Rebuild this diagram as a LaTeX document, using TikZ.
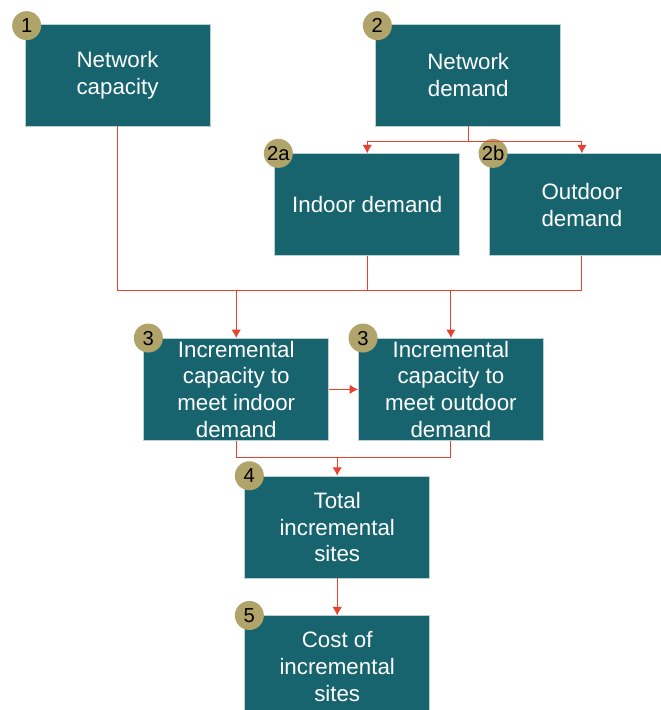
\documentclass[tikz,border=0pt]{standalone}
\usepackage{fontspec}
\setmainfont{Liberation Sans}
\usetikzlibrary{positioning}
\usetikzlibrary{arrows.meta}
\definecolor{verdeazul}{RGB}{23,100,110}
\definecolor{arena}{RGB}{176,164,106}
\definecolor{rojo}{RGB}{232,65,47}
\begin{document}
\begin{tikzpicture}
\tikzset{
    bloque/.style={rectangle, draw=white!70!verdeazul, line width=0.4pt, fill=verdeazul,
                   text=white, minimum width=3.7cm, minimum height=2.04cm, inner sep=0pt,
                   align=center, font=\fontsize{12.7}{15.3}\selectfont},
    flecha/.style={-{Latex[length=1.7mm,width=1.9mm]}, draw=rojo, line width=0.6pt},
    linea/.style={draw=rojo, line width=0.6pt},
    insignia/.style={circle, fill=arena, minimum size=0.58cm, inner sep=0pt,
                     font=\fontsize{11.5}{12}\selectfont}
}
\useasboundingbox (0,0) rectangle (13.22,-14.2);

\node[bloque] (cap) at (2.35,-1.5) {Network\\capacity};
\node[bloque,right=3.3cm of cap] (dem) {Network\\demand};
\node[bloque,below=0.54cm of dem,xshift=-2.02cm] (ind) {Indoor demand};
\node[bloque,right=0.58cm of ind] (outd) {Outdoor\\demand};
\node[bloque,below=1.64cm of ind,xshift=-2.62cm] (inc1) {Incremental\\capacity to\\meet indoor\\demand};
\node[bloque,right=0.58cm of inc1] (inc2) {Incremental\\capacity to\\meet outdoor\\demand};
\node[bloque,below=0.7cm of inc1,xshift=2.02cm] (tot) {Total\\incremental\\sites};
\node[bloque,below=0.74cm of tot] (cost) {Cost of\\incremental\\sites};

% numeros
\node[insignia] (n1) at ([xshift=0.04cm,yshift=-0.04cm]cap.north west) {1};
\node[insignia] (n2) at ([xshift=0.04cm,yshift=-0.04cm]dem.north west) {2};
\node[insignia] (n2a) at ([xshift=0.08cm]ind.north west) {2a};
\node[insignia] (n2b) at ([xshift=0.08cm]outd.north west) {2b};
\node[insignia] (n3a) at ([xshift=0.1cm]inc1.north west) {3};
\node[insignia] (n3b) at ([xshift=0.1cm]inc2.north west) {3};
\node[insignia] (n4) at ([xshift=0.1cm]tot.north west) {4};
\node[insignia] (n5) at ([xshift=0.1cm]cost.north west) {5};

% conexiones
\coordinate (reparto) at ([yshift=-0.3cm]dem.south);
\draw[linea] (dem.south) -- (reparto);
\draw[flecha] (reparto) -| (ind.north);
\draw[flecha] (reparto) -| (outd.north);

\coordinate (bus) at ([yshift=0.96cm]inc1.north);
\draw[linea] (cap.south) |- (outd.south |- bus) -- (outd.south);
\draw[linea] (ind.south) -- (ind.south |- bus);
\draw[flecha] (inc1.north |- bus) -- (inc1.north);
\draw[flecha] (inc2.north |- bus) -- (inc2.north);

\draw[flecha] (inc1) -- (inc2);

\coordinate (junta) at ([yshift=0.36cm]tot.north);
\draw[linea] (inc1.south) |- (junta) -| (inc2.south);
\draw[flecha] (junta) -- (tot.north);
\draw[flecha] (tot) -- (cost);
\end{tikzpicture}
\end{document}
